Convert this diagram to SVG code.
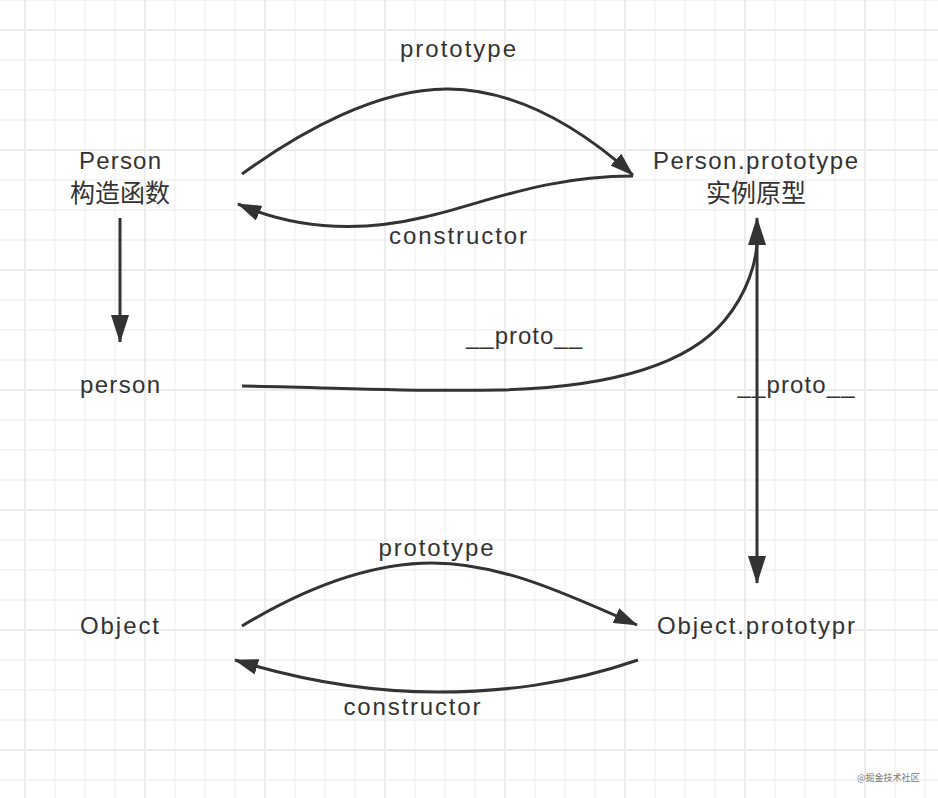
<svg xmlns="http://www.w3.org/2000/svg" width="938" height="798" viewBox="0 0 938 798">
<style>
.bg{fill:#ffffff}
.minor{stroke:#f1f1f1;stroke-width:1.3;fill:none}
.major{stroke:#ebebeb;stroke-width:1.8;fill:none}
.lbl{font-family:"Liberation Sans","Noto Sans CJK SC",sans-serif;font-size:24px;fill:#333333;text-anchor:middle}
.cjk{font-family:"Noto Sans CJK SC","Liberation Sans",sans-serif;font-size:25px;fill:#333333;text-anchor:middle}
.edge{fill:none;stroke:#333333;stroke-width:3}
.curve{marker-end:url(#ah)}
.wm{font-family:"Noto Sans CJK SC",sans-serif;font-size:9px;fill:#777777}
</style>
<defs>
<marker id="ah" viewBox="0 0 24 16" refX="23" refY="8" markerWidth="24" markerHeight="16" markerUnits="userSpaceOnUse" orient="auto">
<path d="M0,0 L24,8 L0,16 z" fill="#333333"/>
</marker>
<marker id="av" viewBox="0 0 28 18" refX="27" refY="9" markerWidth="28" markerHeight="18" markerUnits="userSpaceOnUse" orient="auto-start-reverse">
<path d="M0,0 L28,9 L0,18 z" fill="#333333"/>
</marker>
</defs>
<rect class="bg" x="0" y="0" width="938" height="798"/>
<g id="grid">
<path class="minor" d="M55,0V798M85,0V798M115,0V798M175,0V798M205,0V798M235,0V798M295,0V798M325,0V798M355,0V798M415,0V798M445,0V798M475,0V798M535,0V798M565,0V798M595,0V798M655,0V798M685,0V798M715,0V798M775,0V798M805,0V798M835,0V798M895,0V798M925,0V798
M0,0H938M0,60H938M0,90H938M0,120H938M0,180H938M0,210H938M0,240H938M0,300H938M0,330H938M0,360H938M0,420H938M0,450H938M0,480H938M0,540H938M0,570H938M0,600H938M0,660H938M0,690H938M0,720H938M0,780H938"/>
<path class="major" d="M25,0V798M145,0V798M265,0V798M385,0V798M505,0V798M625,0V798M745,0V798M865,0V798M0,30H938M0,150H938M0,270H938M0,390H938M0,510H938M0,630H938M0,750H938"/>
</g>
<g id="connectors">
<path class="edge curve" d="M242,174 C300,132 378,88 449,89 C522,90 585,132 633,175"/>
<path class="edge curve" d="M633,176 C545,176 485,203 425,217 C362,232 300,231 238,204"/>
<line class="edge" x1="120" y1="218" x2="120" y2="342" marker-end="url(#av)"/>
<path class="edge" d="M242,386 C330,387 400,392 500,390 C620,387 690,362 725,320 C748,292 756,262 757,243"/>
<line class="edge" x1="757" y1="218" x2="757" y2="583" marker-start="url(#av)" marker-end="url(#av)"/>
<path class="edge curve" d="M242,626 C305,588 370,563 432,563 C500,563 565,593 637,625"/>
<path class="edge curve" d="M638,660 C565,685 500,692 438,692 C365,692 300,680 235,660"/>
</g>
<g id="label-prototype-top"><text class="lbl" x="458" y="57" textLength="116" lengthAdjust="spacing">prototype</text></g>
<g id="label-constructor-top"><text class="lbl" x="458" y="244" textLength="138" lengthAdjust="spacing">constructor</text></g>
<g id="label-proto-mid"><text class="lbl" x="524" y="344" textLength="116" lengthAdjust="spacing">__proto__</text></g>
<g id="label-proto-right"><text class="lbl" x="796" y="393" textLength="117" lengthAdjust="spacing">__proto__</text></g>
<g id="label-prototype-bottom"><text class="lbl" x="436" y="556" textLength="115" lengthAdjust="spacing">prototype</text></g>
<g id="label-constructor-bottom"><text class="lbl" x="412" y="715" textLength="137" lengthAdjust="spacing">constructor</text></g>
<g id="node-person-ctor">
<text class="lbl" x="120" y="169" textLength="82" lengthAdjust="spacing">Person</text>
<text class="cjk" x="120" y="202">构造函数</text>
</g>
<g id="node-person-prototype">
<text class="lbl" x="755.5" y="169" textLength="205" lengthAdjust="spacing">Person.prototype</text>
<text class="cjk" x="756" y="202">实例原型</text>
</g>
<g id="node-person"><text class="lbl" x="120" y="393" textLength="80" lengthAdjust="spacing">person</text></g>
<g id="node-object"><text class="lbl" x="119.5" y="634" textLength="79" lengthAdjust="spacing">Object</text></g>
<g id="node-object-prototype"><text class="lbl" x="756" y="634" textLength="198" lengthAdjust="spacing">Object.prototypr</text></g>
<text class="wm" x="857" y="781">@掘金技术社区</text>
</svg>
